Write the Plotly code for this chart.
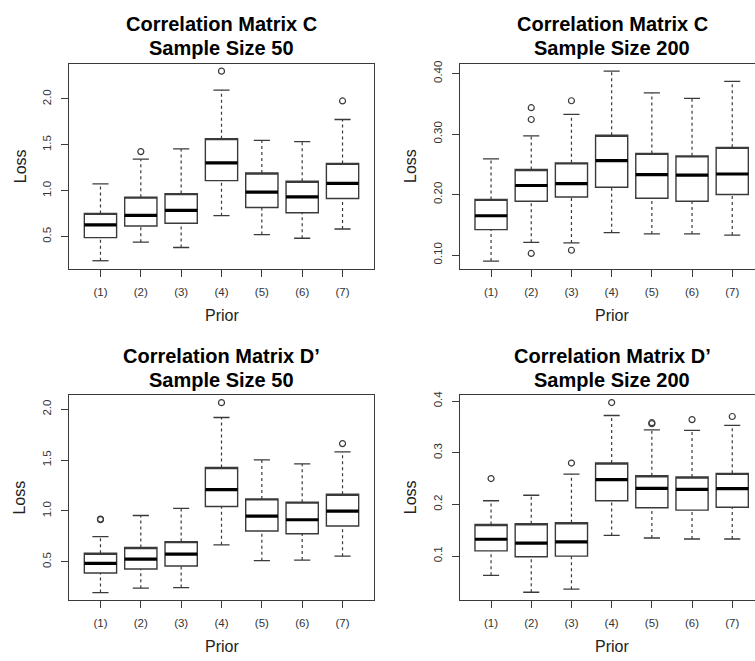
import plotly.graph_objects as go

W, H = 755, 661

priors = ["(1)", "(2)", "(3)", "(4)", "(5)", "(6)", "(7)"]
positions = [1, 2, 3, 4, 5, 6, 7]

# Panel A: Correlation Matrix C, Sample Size 50
a_low = [0.236, 0.438, 0.380, 0.727, 0.521, 0.481, 0.582]
a_q1 = [0.488, 0.615, 0.644, 1.109, 0.817, 0.759, 0.914]
a_med = [0.626, 0.730, 0.784, 1.304, 0.983, 0.932, 1.080]
a_q3 = [0.752, 0.929, 0.968, 1.567, 1.192, 1.102, 1.297]
a_high = [1.073, 1.343, 1.455, 2.097, 1.549, 1.535, 1.776]
a_out = [[], [1.426], [], [2.303], [], [], [1.978]]

# Panel B: Correlation Matrix C, Sample Size 200
b_low = [0.090, 0.121, 0.120, 0.137, 0.135, 0.135, 0.133]
b_q1 = [0.142, 0.189, 0.196, 0.212, 0.194, 0.189, 0.200]
b_med = [0.165, 0.215, 0.218, 0.256, 0.233, 0.232, 0.234]
b_q3 = [0.192, 0.2415, 0.2524, 0.298, 0.268, 0.264, 0.278]
b_high = [0.259, 0.297, 0.3325, 0.404, 0.368, 0.359, 0.387]
b_out = [[], [0.3435, 0.324, 0.1027], [0.355, 0.108], [], [], [], []]

# Panel C: Correlation Matrix D', Sample Size 50
c_low = [0.197, 0.240, 0.246, 0.666, 0.510, 0.516, 0.555]
c_q1 = [0.389, 0.428, 0.458, 1.043, 0.802, 0.776, 0.851]
c_med = [0.484, 0.526, 0.575, 1.209, 0.949, 0.913, 0.997]
c_q3 = [0.584, 0.640, 0.698, 1.427, 1.118, 1.086, 1.164]
c_high = [0.747, 0.955, 1.024, 1.919, 1.502, 1.463, 1.580]
c_out = [[0.920, 0.914], [], [], [2.065], [], [], [1.662]]

# Panel D: Correlation Matrix D', Sample Size 200
d_low = [0.0628, 0.030, 0.036, 0.140, 0.135, 0.133, 0.133]
d_q1 = [0.110, 0.0987, 0.100, 0.207, 0.1934, 0.189, 0.1946]
d_med = [0.1326, 0.1249, 0.1275, 0.248, 0.231, 0.229, 0.2305]
d_q3 = [0.161, 0.1626, 0.1646, 0.280, 0.2554, 0.253, 0.260]
d_high = [0.207, 0.2177, 0.2586, 0.372, 0.344, 0.343, 0.353]
d_out = [[0.250], [], [0.280], [0.397], [0.356, 0.358], [0.364], [0.370]]

titles = [
    ("Correlation Matrix C", "Sample Size 50"),
    ("Correlation Matrix C", "Sample Size 200"),
    ("Correlation Matrix D\u2019", "Sample Size 50"),
    ("Correlation Matrix D\u2019", "Sample Size 200"),
]
y_ranges = [[0.146, 2.386], [0.077, 0.4165], [0.126, 2.137], [0.0155, 0.411]]
y_ticks = [
    [0.5, 1.0, 1.5, 2.0],
    [0.10, 0.20, 0.30, 0.40],
    [0.5, 1.0, 1.5, 2.0],
    [0.1, 0.2, 0.3, 0.4],
]
y_ticktext = [
    ["0.5", "1.0", "1.5", "2.0"],
    ["0.10", "0.20", "0.30", "0.40"],
    ["0.5", "1.0", "1.5", "2.0"],
    ["0.1", "0.2", "0.3", "0.4"],
]

panels = [
    (a_low, a_q1, a_med, a_q3, a_high, a_out),
    (b_low, b_q1, b_med, b_q3, b_high, b_out),
    (c_low, c_q1, c_med, c_q3, c_high, c_out),
    (d_low, d_q1, d_med, d_q3, d_high, d_out),
]

# layout geometry (pixels)
frames = [
    (69, 374, 59, 266),
    (459.7, 755, 59, 266),
    (69, 374, 393.3, 599.3),
    (459.7, 755, 393.3, 599.3),
]
x_ranges = [[0.22, 7.78], [0.22, 7.566], [0.22, 7.78], [0.22, 7.566]]

LINE = "#3a3a3a"
BOXW = 0.8
CAPW = 0.4

fig = go.Figure()
layout = dict(
    width=W, height=H, margin=dict(l=0, r=0, t=0, b=0),
    paper_bgcolor="white", plot_bgcolor="white", showlegend=False,
    font=dict(family="Liberation Sans, Arial, sans-serif", color="#222"),
)
annotations = []

for i, (low, q1, med, q3, high, outs) in enumerate(panels):
    sfx = "" if i == 0 else str(i + 1)
    xa, ya = "x" + sfx, "y" + sfx
    x0, x1, y0, y1 = frames[i]

    fig.add_trace(go.Box(
        x=positions, q1=q1, median=q3, q3=q3, lowerfence=q1, upperfence=q3,
        width=BOXW, fillcolor="white", line=dict(color=LINE, width=1.4),
        whiskerwidth=0, boxpoints=False, hoverinfo="skip",
        xaxis=xa, yaxis=ya,
    ))
    # medians (thick)
    mx, my = [], []
    for p, m in zip(positions, med):
        mx += [p - BOXW / 2, p + BOXW / 2, None]
        my += [m, m, None]
    fig.add_trace(go.Scatter(x=mx, y=my, mode="lines",
                             line=dict(color="black", width=3.2),
                             xaxis=xa, yaxis=ya, hoverinfo="skip"))
    # dashed whiskers
    wx, wy = [], []
    for p, lo, a, b, hi in zip(positions, low, q1, q3, high):
        wx += [p, p, None, p, p, None]
        wy += [lo, a, None, b, hi, None]
    fig.add_trace(go.Scatter(x=wx, y=wy, mode="lines",
                             line=dict(color=LINE, width=1.2, dash="3px,3px"),
                             xaxis=xa, yaxis=ya, hoverinfo="skip"))
    # staples
    sx, sy = [], []
    for p, lo, hi in zip(positions, low, high):
        sx += [p - CAPW / 2, p + CAPW / 2, None, p - CAPW / 2, p + CAPW / 2, None]
        sy += [lo, lo, None, hi, hi, None]
    fig.add_trace(go.Scatter(x=sx, y=sy, mode="lines",
                             line=dict(color=LINE, width=1.3),
                             xaxis=xa, yaxis=ya, hoverinfo="skip"))
    # outliers
    ox, oy = [], []
    for p, o in zip(positions, outs):
        for v in o:
            ox.append(p)
            oy.append(v)
    fig.add_trace(go.Scatter(x=ox, y=oy, mode="markers",
                             marker=dict(symbol="circle-open", size=6,
                                         color=LINE, line=dict(width=1.2)),
                             xaxis=xa, yaxis=ya, hoverinfo="skip"))

    right_side = i in (1, 3)
    xkey = "xaxis" + sfx
    ykey = "yaxis" + sfx
    layout[xkey] = dict(
        domain=[x0 / W, min(x1 / W, 1.0)], range=x_ranges[i], anchor=ya,
        tickmode="array", tickvals=positions, ticktext=priors,
        ticks="outside", ticklen=7, tickcolor=LINE, tickwidth=1.2,
        showline=True, linecolor=LINE, linewidth=1.3, mirror=True,
        showgrid=False, zeroline=False, fixedrange=True,
        tickfont=dict(size=11.5, color="#333"), ticklabelstandoff=5,
    )
    layout[ykey] = dict(
        domain=[1 - y1 / H, 1 - y0 / H], range=y_ranges[i], anchor=xa,
        tickmode="array", tickvals=y_ticks[i], ticktext=y_ticktext[i],
        ticks="outside", ticklen=7, tickcolor=LINE, tickwidth=1.2,
        showline=True, linecolor=LINE, linewidth=1.3, mirror=(not right_side),
        showgrid=False, zeroline=False, fixedrange=True, tickangle=-90,
        tickfont=dict(size=11.5, color="#333"), ticklabelstandoff=5,
    )

    cx = (x0 + (x0 + 305)) / 2
    annotations.append(dict(text="<b>%s</b>" % titles[i][0], x=cx / W, y=1 - (y0 - 40) / H,
                            xref="paper", yref="paper", showarrow=False,
                            xanchor="center", yanchor="middle",
                            font=dict(size=20, color="black")))
    annotations.append(dict(text="<b>%s</b>" % titles[i][1], x=cx / W, y=1 - (y0 - 15.5) / H,
                            xref="paper", yref="paper", showarrow=False,
                            xanchor="center", yanchor="middle",
                            font=dict(size=20, color="black")))
    annotations.append(dict(text="Prior", x=cx / W, y=1 - (y1 + 47) / H,
                            xref="paper", yref="paper", showarrow=False,
                            xanchor="center", yanchor="middle",
                            font=dict(size=16, color="#222")))
    annotations.append(dict(text="Loss", x=(x0 - 49) / W, y=1 - ((y0 + y1) / 2) / H,
                            xref="paper", yref="paper", showarrow=False,
                            xanchor="center", yanchor="middle", textangle=-90,
                            font=dict(size=16, color="#222")))

layout["annotations"] = annotations
fig.update_layout(**layout)
fig.write_html(
    "out.html",
    config={"displayModeBar": False},
    post_script="document.body.style.margin='0';document.body.style.overflow='hidden';",
)
